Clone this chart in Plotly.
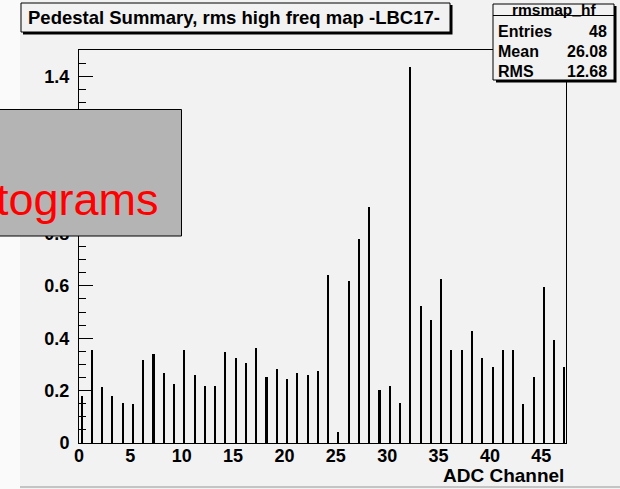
import plotly.graph_objects as go

# ADC channel numbers and the high-frequency pedestal rms per channel
channels = list(range(48))
rms_hf = [0.178, 0.354, 0.212, 0.180, 0.154, 0.147, 0.315, 0.339, 0.268, 0.227,
          0.354, 0.259, 0.219, 0.219, 0.347, 0.324, 0.307, 0.363, 0.251, 0.283,
          0.244, 0.268, 0.260, 0.275, 0.643, 0.042, 0.620, 0.779, 0.899, 0.204,
          0.219, 0.154, 1.435, 0.523, 0.468, 0.626, 0.356, 0.356, 0.427, 0.323,
          0.291, 0.356, 0.356, 0.147, 0.251, 0.594, 0.395, 0.291]

x_ticks = [0, 5, 10, 15, 20, 25, 30, 35, 40, 45]
y_ticks = [0, 0.2, 0.4, 0.6, 0.8, 1.0, 1.2, 1.4]
y_tick_text = ["0", "0.2", "0.4", "0.6", "0.8", "1", "1.2", "1.4"]

hist_title = "Pedestal Summary, rms high freq map -LBC17-"
hist_name = "rmsmap_hf"
stat_names = ["Entries", "Mean", "RMS"]
stat_values = ["48", "26.08", "12.68"]
x_title = "ADC Channel"
overlay_text = "tograms"

W, H = 620, 489
L, R, T, B = 79, 566, 50, 443
BG = "#f2f2f2"
FONT = "Liberation Sans"


def px(x):
    return (x - L) / (R - L)


def py(y):
    return (B - y) / (B - T)


def rect(x0, y0, x1, y1, fill, line_color=None, width=1, layer="above"):
    return dict(type="rect", xref="paper", yref="paper",
                x0=px(x0), x1=px(x1), y0=py(y1), y1=py(y0),
                fillcolor=fill, layer=layer,
                line=dict(color=line_color or fill, width=width if line_color else 0))


def hline(x0, x1, y, color="black", width=1):
    return dict(type="line", xref="paper", yref="paper",
                x0=px(x0), x1=px(x1), y0=py(y), y1=py(y),
                line=dict(color=color, width=width), layer="above")


def bold(size):
    return dict(family=FONT, size=size, color="black", weight="bold")


fig = go.Figure()
fig.add_trace(go.Bar(
    x=channels, y=rms_hf, width=0.2, offset=0.15,
    marker=dict(color="black", line=dict(width=0)),
    showlegend=False, hoverinfo="x+y",
))

shapes = [
    # canvas edge strips
    rect(-1, -1, 20, 490, "#fafafa", layer="below"),
    rect(20, 486, 621, 488, "#c4c4c4", layer="below"),
    # title pave with shadow
    rect(23, 5, 452.5, 34.5, "black"),
    rect(21, 3, 450, 32, BG, "black", 1),
    # statistics box with shadow
    rect(496, 6, 616.5, 82.5, "black"),
    rect(493, 4, 614, 80, BG, "black", 1),
    hline(493, 614, 15.5),
    # overlay panel
    rect(-3, 109.5, 181.5, 236, "#b4b4b4", "black", 1),
]

annotations = [
    dict(text=hist_title, xref="paper", yref="paper", x=px(234), y=py(18),
         xanchor="center", yanchor="middle", showarrow=False, font=bold(18.5)),
    dict(text=hist_name, xref="paper", yref="paper", x=px(553.5), y=py(9.5),
         xanchor="center", yanchor="middle", showarrow=False, font=bold(15.5)),
    dict(text=x_title, xref="paper", yref="paper", x=px(566), y=py(475),
         xanchor="right", yanchor="middle", showarrow=False, font=bold(19)),
    dict(text=overlay_text, xref="paper", yref="paper", x=px(161), y=py(199),
         xanchor="right", yanchor="middle", showarrow=False,
         font=dict(family=FONT, size=45, color="#ff0000", weight="normal")),
]
for i, (name, val) in enumerate(zip(stat_names, stat_values)):
    yc = 32 + i * 19.5
    annotations.append(dict(text=name, xref="paper", yref="paper", x=px(496), y=py(yc),
                            xanchor="left", yanchor="middle", showarrow=False,
                            font=bold(16)))
    annotations.append(dict(text=val, xref="paper", yref="paper", x=px(609), y=py(yc),
                            xanchor="right", yanchor="middle", showarrow=False,
                            font=bold(16)))

fig.update_layout(
    width=W, height=H,
    margin=dict(l=L, r=W - R, t=T, b=H - B, pad=0),
    paper_bgcolor=BG, plot_bgcolor=BG,
    bargap=0,
    shapes=shapes, annotations=annotations,
    font=bold(18),
    xaxis=dict(range=[0, 47.4], tickvals=x_ticks, ticks="", showgrid=False,
               zeroline=False, showline=True, linecolor="black", linewidth=1,
               mirror=True, ticklabelstandoff=-4, tickfont=bold(18)),
    yaxis=dict(range=[0, 1.5], tickvals=y_ticks, ticktext=y_tick_text,
               ticks="inside", ticklen=14, tickcolor="black", tickwidth=1,
               minor=dict(dtick=0.05, tick0=0, ticks="inside", ticklen=7,
                          tickcolor="black", tickwidth=1, showgrid=False),
               showgrid=False, zeroline=False, showline=True, linecolor="black",
               linewidth=1, mirror=True, ticklabelstandoff=5, tickfont=bold(18)),
)

fig.write_html("out.html")
